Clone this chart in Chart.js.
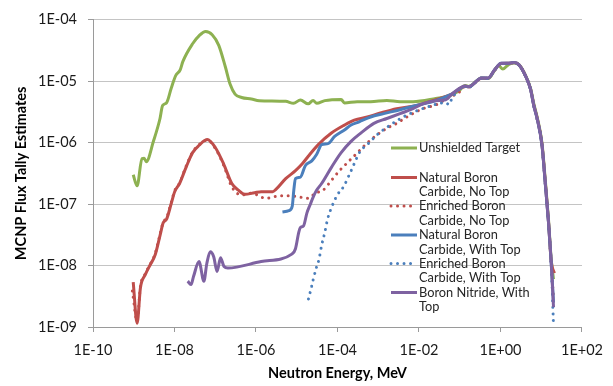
<!DOCTYPE html>
<html>
<head>
<meta charset="utf-8">
<script src="https://cdn.jsdelivr.net/npm/chart.js@4.4.0/dist/chart.umd.min.js"></script>
<style>
  html, body { margin: 0; padding: 0; background: #ffffff; }
  #wrap { width: 613px; height: 386px; position: relative; }
</style>
</head>
<body>
<div id="wrap"><canvas id="fluxChart"></canvas></div>
<script>
// Neutron energy (MeV) and flux tally values
const greenE = [9.7e-10, 1.21e-9, 1.59e-9, 1.80e-9, 2.03e-9, 3.04e-9, 4.41e-9, 5.10e-9, 6.35e-9, 8.38e-9,
    1.07e-8, 1.38e-8, 1.60e-8, 2.78e-8, 4.04e-8, 5.81e-8, 8.41e-8, 1.22e-7, 1.76e-7, 2.32e-7,
    3.06e-7, 4.44e-7, 7.71e-7, 1.20e-6, 5.35e-6, 8.33e-6, 1.23e-5, 1.91e-5, 2.52e-5, 3.09e-5,
    4.89e-5, 1.23e-4, 1.48e-4, 3.04e-4, 6.49e-4, 1.63e-3, 3.42e-3, 7.13e-3, 2.59e-2, 5.45e-2,
    9.47e-2, 0.136, 0.165, 0.344, 0.498, 0.718, 0.9, 1.14, 1.6, 2.17,
    2.86, 4.15, 5.47, 6.56, 7.93, 10.4, 12.6, 15.1, 17.5, 20];
const greenF = [2.99e-7, 1.98e-7, 5.51e-7, 5.57e-7, 4.90e-7, 1.05e-6, 2.47e-6, 4.01e-6, 4.43e-6, 7.83e-6,
    1.23e-5, 1.53e-5, 2.08e-5, 4.06e-5, 5.51e-5, 6.45e-5, 5.71e-5, 3.83e-5, 1.73e-5, 8.87e-6,
    6.15e-6, 5.43e-6, 5.13e-6, 4.82e-6, 4.69e-6, 4.36e-6, 4.94e-6, 4.27e-6, 4.86e-6, 4.36e-6,
    4.82e-6, 5.05e-6, 4.43e-6, 4.64e-6, 4.64e-6, 4.86e-6, 4.64e-6, 4.64e-6, 5.24e-6, 5.78e-6,
    6.94e-6, 8.5e-6, 8.2e-6, 1.13e-5, 1.10e-5, 1.50e-5, 1.80e-5, 1.57e-5, 1.88e-5, 1.98e-5,
    1.84e-5, 1.22e-5, 7.6e-6, 4.3e-6, 2.6e-6, 1.0e-6, 2.4e-7, 5.5e-8, 1.3e-8, 6e-9];

const redE = [9.7e-10, 1.21e-9, 1.46e-9, 1.92e-9, 2.54e-9, 3.34e-9, 4.41e-9, 5.30e-9, 6.35e-9, 8.38e-9,
    1.01e-8, 1.33e-8, 1.92e-8, 2.78e-8, 4.04e-8, 6.38e-8, 1.01e-7, 1.61e-7, 2.55e-7, 3.69e-7,
    5.32e-7, 9.25e-7, 1.34e-6, 2.56e-6, 3.08e-6, 5.35e-6, 9.31e-6, 1.35e-5, 1.94e-5, 3.38e-5,
    7.10e-5, 1.48e-4, 2.58e-4, 5.38e-4, 1.13e-3, 2.83e-3, 7.13e-3, 2.16e-2, 6.53e-2, 0.136,
    0.165, 0.344, 0.498, 0.718, 1.04, 1.51, 2.17, 2.86, 4.15, 5.47,
    6.56, 7.93, 10.4, 12.6, 15.1, 17.5, 21];
const redF = [5.37e-9, 1.15e-9, 4.36e-9, 7.11e-9, 1.03e-8, 1.48e-8, 3.07e-8, 4.99e-8, 5.64e-8, 1.04e-7,
    1.59e-7, 2.16e-7, 3.96e-7, 6.87e-7, 9.06e-7, 1.12e-6, 8.24e-7, 4.48e-7, 2.16e-7, 1.69e-7,
    1.44e-7, 1.53e-7, 1.59e-7, 1.59e-7, 1.73e-7, 2.59e-7, 3.50e-7, 4.48e-7, 6.07e-7, 9.29e-7,
    1.43e-6, 1.93e-6, 2.32e-6, 2.61e-6, 3.03e-6, 3.56e-6, 3.91e-6, 4.82e-6, 6.22e-6, 8.3e-6,
    8.1e-6, 1.12e-5, 1.12e-5, 1.52e-5, 1.94e-5, 1.95e-5, 2.01e-5, 1.84e-5, 1.21e-5, 7.4e-6,
    4.1e-6, 2.5e-6, 9.5e-7, 2.2e-7, 5.1e-8, 1.2e-8, 7.5e-9];

const redDotE = [9.25e-10, 1.21e-9, 1.46e-9, 1.92e-9, 2.54e-9, 3.34e-9, 4.41e-9, 5.30e-9, 6.35e-9, 8.38e-9,
    1.01e-8, 1.33e-8, 1.92e-8, 2.78e-8, 4.04e-8, 6.38e-8, 1.01e-7, 1.61e-7, 2.55e-7, 4.44e-7,
    7.71e-7, 1.77e-6, 3.69e-6, 6.43e-6, 1.35e-5, 1.94e-5, 2.82e-5, 4.46e-5, 7.10e-5, 1.12e-4,
    1.78e-4, 3.09e-4, 5.38e-4, 9.35e-4, 1.63e-3, 2.83e-3, 4.92e-3, 1.24e-2, 2.59e-2, 5.45e-2,
    9.47e-2, 0.136, 0.165, 0.344, 0.498, 0.718, 1.04, 1.51, 2.17, 2.86,
    4.15, 5.47, 6.56, 7.93, 10.4, 12.6, 15.1, 17.5, 20];
const redDotF = [3.86e-9, 1.25e-9, 4.6e-9, 7.4e-9, 1.05e-8, 1.55e-8, 3.2e-8, 5.1e-8, 5.9e-8, 1.08e-7,
    1.65e-7, 2.2e-7, 4.1e-7, 7.0e-7, 9.3e-7, 1.1e-6, 8.0e-7, 4.3e-7, 1.91e-7, 1.41e-7,
    1.50e-7, 1.24e-7, 1.36e-7, 1.36e-7, 1.28e-7, 1.24e-7, 1.50e-7, 1.69e-7, 2.43e-7, 3.50e-7,
    4.77e-7, 6.87e-7, 9.89e-7, 1.34e-6, 1.71e-6, 2.06e-6, 2.59e-6, 3.56e-6, 4.11e-6, 5.43e-6,
    6.52e-6, 8.2e-6, 8.0e-6, 1.12e-5, 1.11e-5, 1.51e-5, 1.93e-5, 1.94e-5, 2.0e-5, 1.83e-5,
    1.2e-5, 7.3e-6, 4.0e-6, 2.4e-6, 9.2e-7, 2.1e-7, 5.0e-8, 1.1e-8, 3e-9];

const blueE = [4.46e-6, 6.43e-6, 7.74e-6, 8.47e-6, 9.31e-6, 1.23e-5, 1.62e-5, 2.34e-5, 3.09e-5, 4.08e-5,
    5.88e-5, 8.51e-5, 1.48e-4, 2.15e-4, 3.40e-4, 6.49e-4, 1.36e-3, 3.42e-3, 7.13e-3, 2.16e-2,
    6.53e-2, 0.136, 0.165, 0.344, 0.498, 0.718, 1.04, 1.51, 2.17, 2.86,
    4.15, 5.47, 6.56, 7.93, 10.4, 12.6, 15.1, 17.5, 20];
const blueF = [7.46e-8, 7.83e-8, 9.18e-8, 1.69e-7, 2.59e-7, 2.75e-7, 4.21e-7, 5.05e-7, 6.45e-7, 9.29e-7,
    9.64e-7, 1.26e-6, 1.61e-6, 1.93e-6, 2.18e-6, 2.61e-6, 2.96e-6, 3.43e-6, 3.91e-6, 4.64e-6,
    6.22e-6, 8.3e-6, 8.1e-6, 1.13e-5, 1.12e-5, 1.53e-5, 1.95e-5, 1.95e-5, 2.02e-5, 1.84e-5,
    1.2e-5, 7.35e-6, 4.0e-6, 2.45e-6, 9.2e-7, 2.1e-7, 4.9e-8, 1.15e-8, 2.5e-9];

const blueDotE = [1.94e-5, 2.13e-5, 2.56e-5, 3.09e-5, 3.52e-5, 4.08e-5, 4.89e-5, 5.69e-5, 7.33e-5, 9.89e-5,
    1.40e-4, 2.15e-4, 3.59e-4, 5.38e-4, 9.35e-4, 1.96e-3, 4.92e-3, 1.49e-2, 4.51e-2, 5.45e-2,
    6.53e-2, 0.136, 0.165, 0.344, 0.498, 0.718, 1.04, 1.51, 2.17, 2.86,
    4.15, 5.47, 6.56, 7.93, 10.4, 12.6, 15.1, 17.5, 20];
const blueDotF = [2.86e-9, 3.63e-9, 6.07e-9, 9.64e-9, 1.26e-8, 2.13e-8, 3.47e-8, 5.64e-8, 9.18e-8, 1.41e-7,
    1.91e-7, 3.47e-7, 7.19e-7, 9.29e-7, 1.34e-6, 1.93e-6, 2.78e-6, 3.73e-6, 4.48e-6, 4.16e-6,
    5.37e-6, 8.2e-6, 8.0e-6, 1.12e-5, 1.11e-5, 1.52e-5, 1.94e-5, 1.94e-5, 2.01e-5, 1.83e-5,
    1.19e-5, 7.3e-6, 3.95e-6, 2.4e-6, 9.0e-7, 2.05e-7, 4.8e-8, 1.1e-8, 1.05e-9];

const purpleE = [2.11e-8, 2.54e-8, 2.94e-8, 3.99e-8, 5.26e-8, 6.21e-8, 7.53e-8, 9.16e-8, 1.11e-7, 1.35e-7,
    1.64e-7, 2.04e-7, 1.34e-6, 7.74e-6, 9.31e-6, 1.12e-5, 1.23e-5, 1.47e-5, 1.78e-5, 2.13e-5,
    2.56e-5, 3.09e-5, 4.08e-5, 7.10e-5, 1.23e-4, 2.15e-4, 3.73e-4, 7.80e-4, 1.63e-3, 3.42e-3,
    7.13e-3, 1.24e-2, 2.59e-2, 4.51e-2, 6.53e-2, 0.136, 0.165, 0.344, 0.498, 0.718,
    1.04, 1.51, 2.17, 2.86, 4.15, 5.47, 6.56, 7.93, 10.4, 12.6,
    15.1, 17.5, 20];
const purpleF = [5.57e-9, 4.90e-9, 6.68e-9, 1.16e-8, 5.57e-9, 1.08e-8, 1.67e-8, 1.39e-8, 8.03e-9, 1.34e-8,
    9.64e-9, 9.12e-9, 1.16e-8, 1.55e-8, 1.88e-8, 3.47e-8, 4.16e-8, 4.43e-8, 7.20e-8, 9.75e-8,
    1.32e-7, 1.69e-7, 2.16e-7, 3.96e-7, 6.87e-7, 1.05e-6, 1.43e-6, 2.06e-6, 2.47e-6, 2.96e-6,
    3.56e-6, 4.27e-6, 4.82e-6, 4.99e-6, 6.22e-6, 8.34e-6, 8.13e-6, 1.13e-5, 1.13e-5, 1.53e-5,
    1.95e-5, 1.95e-5, 2.02e-5, 1.84e-5, 1.20e-5, 7.38e-6, 4.01e-6, 2.47e-6, 9.29e-7, 2.16e-7,
    4.99e-8, 1.16e-8, 2.1e-9];

const seriesNames = [
    'Unshielded Target',
    'Natural Boron Carbide, No Top',
    'Enriched Boron Carbide, No Top',
    'Natural Boron Carbide, With Top',
    'Enriched Boron Carbide, With Top',
    'Boron Nitride, With Top'
];
// how the legend wraps each name
const legendText = [
    ['Unshielded Target'],
    ['Natural Boron', 'Carbide, No Top'],
    ['Enriched Boron', 'Carbide, No Top'],
    ['Natural Boron', 'Carbide, With Top'],
    ['Enriched Boron', 'Carbide, With Top'],
    ['Boron Nitride, With', 'Top']
];

const xTickValues = [1e-10, 1e-8, 1e-6, 1e-4, 1e-2, 1e0, 1e2];
const xTickLabels = ['1E-10', '1E-08', '1E-06', '1E-04', '1E-02', '1E+00', '1E+02'];
const yTickValues = [1e-9, 1e-8, 1e-7, 1e-6, 1e-5, 1e-4];
const yTickLabels = ['1E-09', '1E-08', '1E-07', '1E-06', '1E-05', '1E-04'];

function pairs(xs, ys) {
    const out = [];
    for (let i = 0; i < Math.min(xs.length, ys.length); i++) {
        out.push({ x: xs[i], y: ys[i] });
    }
    return out;
}

const DOTS = [0.01, 6.5];

function makeSeries(name, xs, ys, color, dotted, order) {
    return {
        label: name,
        data: pairs(xs, ys),
        borderColor: color,
        backgroundColor: color,
        borderWidth: 3,
        borderDash: dotted ? DOTS : [],
        borderCapStyle: dotted ? 'round' : 'butt',
        pointRadius: 0,
        pointHoverRadius: 0,
        cubicInterpolationMode: 'monotone',
        fill: false,
        order: order
    };
}

const FONT = 'Lato, "Open Sans", sans-serif';

// legend drawn inside the plot, to the right, like the original
const insideLegend = {
    id: 'insideLegend',
    afterDatasetsDraw(chart) {
        const ctx = chart.ctx;
        const rowY = [148, 177.5, 206, 235, 263.5, 292.5];
        ctx.save();
        ctx.font = '12.8px ' + FONT;
        ctx.textBaseline = 'middle';
        ctx.textAlign = 'left';
        chart.data.datasets.forEach((ds, i) => {
            const y = rowY[i];
            ctx.strokeStyle = ds.borderColor;
            ctx.lineWidth = ds.borderWidth;
            ctx.lineCap = ds.borderCapStyle;
            ctx.setLineDash(ds.borderDash);
            ctx.beginPath();
            ctx.moveTo(391, y);
            ctx.lineTo(417, y);
            ctx.stroke();
            ctx.setLineDash([]);
            ctx.fillStyle = '#262626';
            legendText[i].forEach((t, k) => {
                ctx.fillText(t, 419, y + k * 14.5);
            });
        });
        ctx.restore();
    }
};

const chart = new Chart(document.getElementById('fluxChart'), {
    type: 'line',
    data: {
        datasets: [
            makeSeries(seriesNames[0], greenE, greenF, '#8db151', false, 6),
            makeSeries(seriesNames[1], redE, redF, '#bf4e4b', false, 5),
            makeSeries(seriesNames[2], redDotE, redDotF, '#bf4e4b', true, 4),
            makeSeries(seriesNames[3], blueE, blueF, '#4b7fbc', false, 3),
            makeSeries(seriesNames[4], blueDotE, blueDotF, '#4b7fbc', true, 2),
            makeSeries(seriesNames[5], purpleE, purpleF, '#7e62a1', false, 1)
        ]
    },
    options: {
        responsive: true,
        maintainAspectRatio: false,
        animation: false,
        layout: {
            padding: { top: 12, right: 21, bottom: 0, left: 0 }
        },
        plugins: {
            legend: { display: false },
            tooltip: { enabled: false }
        },
        scales: {
            x: {
                type: 'logarithmic',
                min: 1e-10,
                max: 1e2,
                afterBuildTicks: (axis) => {
                    axis.ticks = xTickValues.map(v => ({ value: v }));
                },
                afterFit: (axis) => { axis.height = 59; },
                ticks: {
                    autoSkip: false,
                    maxRotation: 0,
                    padding: 10,
                    color: '#1a1a1a',
                    font: { family: FONT, size: 14.5 },
                    callback: (value, index) => xTickLabels[index]
                },
                grid: {
                    drawOnChartArea: false,
                    drawTicks: true,
                    tickLength: 5,
                    tickColor: '#9a9a9a'
                },
                border: { display: true, color: '#9a9a9a', width: 1 },
                title: {
                    display: true,
                    text: 'Neutron Energy, MeV',
                    color: '#000000',
                    font: { family: FONT, size: 14.5, weight: 'bold' },
                    padding: { top: 0, bottom: 4 }
                }
            },
            y: {
                type: 'logarithmic',
                min: 1e-9,
                max: 1e-4,
                afterBuildTicks: (axis) => {
                    axis.ticks = yTickValues.map(v => ({ value: v }));
                },
                afterFit: (axis) => { axis.width = 93; },
                ticks: {
                    autoSkip: false,
                    padding: 11,
                    color: '#1a1a1a',
                    font: { family: FONT, size: 14.5 },
                    callback: (value, index) => yTickLabels[index]
                },
                grid: {
                    color: '#c4c4c4',
                    tickColor: '#9a9a9a',
                    tickLength: 5,
                    drawTicks: true
                },
                border: { display: true, color: '#9a9a9a', width: 1 },
                title: {
                    display: true,
                    text: 'MCNP Flux Tally Estimates',
                    color: '#000000',
                    font: { family: FONT, size: 14.5, weight: 'bold' },
                    padding: { top: 13, bottom: 0 }
                }
            }
        }
    },
    plugins: [insideLegend]
});
</script>
</body>
</html>
